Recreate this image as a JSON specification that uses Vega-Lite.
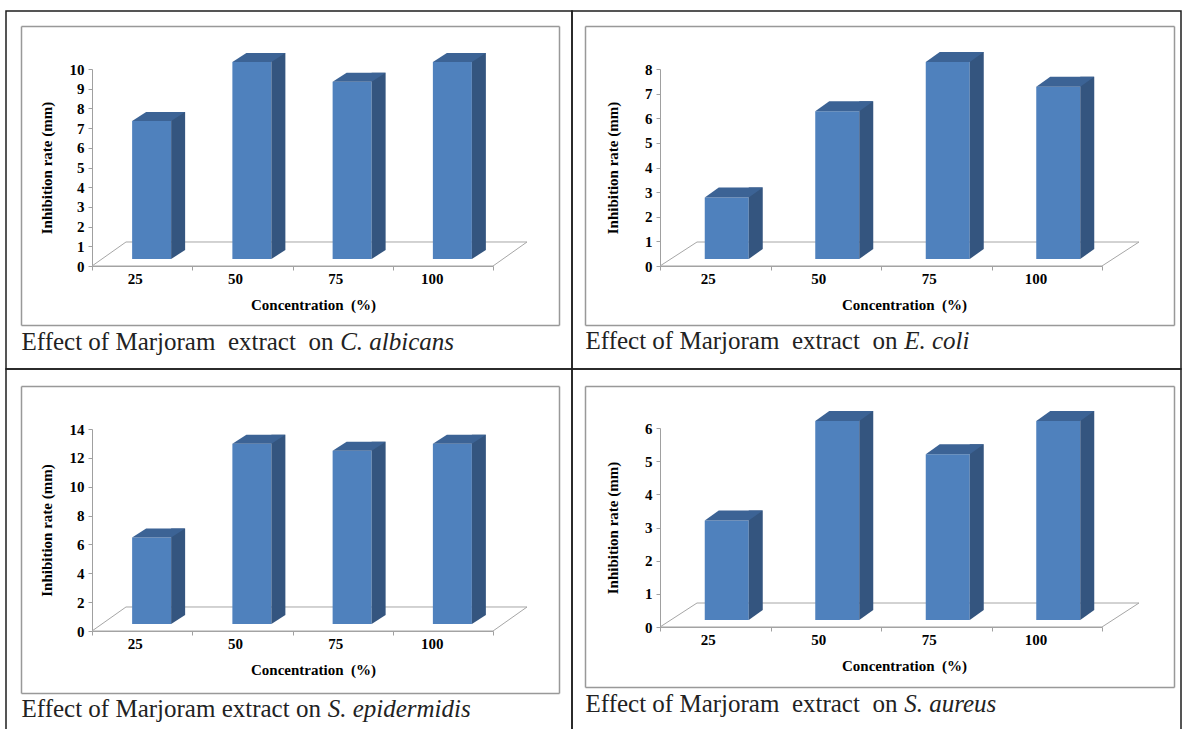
{
  "$schema": "https://vega.github.io/schema/vega-lite/v6.json",
  "padding": {"left": 5, "top": 10, "right": 0, "bottom": 0},
  "autosize": {"type": "pad"},
  "background": "white",
  "spacing": 0,
  "bounds": "flush",
  "columns": 2,
  "datasets": {
    "albicans": [{"conc": 25, "value": 7}, {"conc": 50, "value": 10}, {"conc": 75, "value": 9}, {"conc": 100, "value": 10}],
    "ecoli": [{"conc": 25, "value": 2.5}, {"conc": 50, "value": 6}, {"conc": 75, "value": 8}, {"conc": 100, "value": 7}],
    "epidermidis": [{"conc": 25, "value": 6}, {"conc": 50, "value": 12.5}, {"conc": 75, "value": 12}, {"conc": 100, "value": 12.5}],
    "aureus": [{"conc": 25, "value": 3}, {"conc": 50, "value": 6}, {"conc": 75, "value": 5}, {"conc": 100, "value": 6}]
  },
  "concat": [
        {
          "width": 566, "height": 358,
          "resolve": {"scale": {"x": "independent", "y": "independent"}, "axis": {"x": "independent", "y": "independent"}},
          "layer": [
            {
              "data": {"name": "albicans"},
              "layer": [
                {"transform": [{"filter": "datum.conc == 50"}],
                 "mark": {"type": "point", "shape": "M-1,0.0552L0.8437,0.0552L1,-0.0552L-0.8437,-0.0552Z", "size": 189225, "filled": false, "color": "#a6a6a6", "strokeWidth": 1, "opacity": 1, "xOffset": 67.125, "yOffset": -12},
                 "encoding": {"x": {"field": "conc", "type": "ordinal"},
                   "y": {"datum": 0, "type": "quantitative", "axis": {"orient": "left", "offset": -86, "values": [0, 1, 2, 3, 4, 5, 6, 7, 8, 9, 10], "format": "d", "labelOverlap": false, "title": "Inhibition rate (mm)", "labelPadding": 4, "titlePadding": 15}}}},
                {"mark": {"type": "bar", "width": 39, "xOffset": 9.5, "yOffset": -7, "y2Offset": -7, "color": "#4f81bd"},
                 "encoding": {
                   "x": {"field": "conc", "type": "ordinal", "scale": {"range": [86, 487], "paddingInner": 0, "paddingOuter": 0},
                         "axis": {"orient": "bottom", "offset": -103, "title": "Concentration\u00a0 (%)", "tickBand": "extent", "labelAngle": 0, "labelPadding": 8, "titlePadding": 11, "titleX": 307}},
                   "y": {"field": "value", "type": "quantitative", "scale": {"domain": [0, 10], "range": [255, 58], "nice": false, "zero": true},
                         "axis": {"orient": "left", "offset": -86, "values": [0, 1, 2, 3, 4, 5, 6, 7, 8, 9, 10], "format": "d", "labelOverlap": false, "title": "Inhibition rate (mm)", "labelPadding": 4, "titlePadding": 15}}
                 }},
                {"mark": {"type": "bar", "width": 14, "xOffset": 36, "yOffset": -16, "y2Offset": -16, "color": "#34557f"},
                 "encoding": {"x": {"field": "conc", "type": "ordinal"}, "y": {"field": "value", "type": "quantitative", "axis": {"orient": "left", "offset": -86, "values": [0, 1, 2, 3, 4, 5, 6, 7, 8, 9, 10], "format": "d", "labelOverlap": false, "title": "Inhibition rate (mm)", "labelPadding": 4, "titlePadding": 15}}}},
                {"mark": {"type": "point", "shape": "M-1,0.643L-1,-0.643L1,-0.643Z", "size": 196, "filled": true, "color": "#34557f", "opacity": 1, "strokeWidth": 0, "xOffset": 36, "yOffset": -11.5},
                 "encoding": {"x": {"field": "conc", "type": "ordinal"}, "y": {"datum": 0, "type": "quantitative", "axis": {"orient": "left", "offset": -86, "values": [0, 1, 2, 3, 4, 5, 6, 7, 8, 9, 10], "format": "d", "labelOverlap": false, "title": "Inhibition rate (mm)", "labelPadding": 4, "titlePadding": 15}}}},
                {"mark": {"type": "point", "shape": "M-1,0.1698L0.4717,0.1698L1,-0.1698L-0.4717,-0.1698Z", "size": 2809, "filled": true, "color": "#3c6395", "opacity": 1, "strokeWidth": 0, "xOffset": 16.5, "yOffset": -11.5},
                 "encoding": {"x": {"field": "conc", "type": "ordinal"}, "y": {"field": "value", "type": "quantitative", "axis": {"orient": "left", "offset": -86, "values": [0, 1, 2, 3, 4, 5, 6, 7, 8, 9, 10], "format": "d", "labelOverlap": false, "title": "Inhibition rate (mm)", "labelPadding": 4, "titlePadding": 15}}}}
              ]
            },
            {
              "data": {"name": "albicans"},
              "mark": {"type": "point", "opacity": 0},
              "encoding": {
                "x": {"datum": 0, "type": "quantitative", "scale": {"domain": [0, 1], "range": [15, 553]},
                      "axis": {"orient": "top", "offset": -15, "domainColor": "#999999", "domainWidth": 1.5, "ticks": false, "labels": false, "grid": false,
                               "title": "C. albicans", "titleFontStyle": "italic", "titleFontWeight": "normal", "titleFontSize": 25, "titleColor": "#222222", "titleX": 333.7, "titleY": 323, "titleAlign": "left", "titleBaseline": "alphabetic", "titleAngle": 0}},
                "y": {"datum": 0, "type": "quantitative", "scale": {"domain": [0, 1], "range": [314, 15]},
                      "axis": {"orient": "left", "offset": -15, "domainColor": "#999999", "domainWidth": 1.5, "ticks": false, "labels": false, "grid": false, "title": null}}
              }
            },
            {
              "data": {"name": "albicans"},
              "mark": {"type": "point", "opacity": 0},
              "encoding": {
                "x": {"datum": 0, "type": "quantitative", "scale": {"domain": [0, 1], "range": [15, 553]},
                      "axis": {"orient": "bottom", "offset": -44, "domainColor": "#999999", "domainWidth": 1.5, "ticks": false, "labels": false, "grid": false,
                               "title": "Effect of Marjoram\u00a0 extract\u00a0 on", "titleFontStyle": "normal", "titleFontWeight": "normal", "titleFontSize": 25, "titleColor": "#222222", "titleX": 15, "titleY": 24, "titleAlign": "left", "titleBaseline": "alphabetic", "titleAngle": 0}},
                "y": {"datum": 0, "type": "quantitative", "scale": {"domain": [0, 1], "range": [314, 15]},
                      "axis": {"orient": "right", "offset": -13, "domainColor": "#999999", "domainWidth": 1.5, "ticks": false, "labels": false, "grid": false, "title": null}}
              }
            }
          ]
        },
        {
          "width": 609, "height": 358,
          "resolve": {"scale": {"x": "independent", "y": "independent"}, "axis": {"x": "independent", "y": "independent"}},
          "layer": [
            {
              "data": {"name": "ecoli"},
              "layer": [
                {"transform": [{"filter": "datum.conc == 50"}],
                 "mark": {"type": "point", "shape": "M-1,0.0501L0.8455,0.0501L1,-0.0501L-0.8455,-0.0501Z", "size": 229441, "filled": false, "color": "#a6a6a6", "strokeWidth": 1, "opacity": 1, "xOffset": 73.75, "yOffset": -12},
                 "encoding": {"x": {"field": "conc", "type": "ordinal"},
                   "y": {"datum": 0, "type": "quantitative", "axis": {"orient": "left", "offset": -88, "values": [0, 1, 2, 3, 4, 5, 6, 7, 8], "format": "d", "labelOverlap": false, "title": "Inhibition rate (mm)", "labelPadding": 4, "titlePadding": 24}}}},
                {"mark": {"type": "bar", "width": 44, "xOffset": 11.5, "yOffset": -7, "y2Offset": -7, "color": "#4f81bd"},
                 "encoding": {
                   "x": {"field": "conc", "type": "ordinal", "scale": {"range": [88, 530], "paddingInner": 0, "paddingOuter": 0},
                         "axis": {"orient": "bottom", "offset": -103, "title": "Concentration\u00a0 (%)", "tickBand": "extent", "labelAngle": 0, "labelPadding": 8, "titlePadding": 11, "titleX": 332}},
                   "y": {"field": "value", "type": "quantitative", "scale": {"domain": [0, 8], "range": [255, 58], "nice": false, "zero": true},
                         "axis": {"orient": "left", "offset": -88, "values": [0, 1, 2, 3, 4, 5, 6, 7, 8], "format": "d", "labelOverlap": false, "title": "Inhibition rate (mm)", "labelPadding": 4, "titlePadding": 24}}
                 }},
                {"mark": {"type": "bar", "width": 14, "xOffset": 40.5, "yOffset": -17, "y2Offset": -17, "color": "#34557f"},
                 "encoding": {"x": {"field": "conc", "type": "ordinal"}, "y": {"field": "value", "type": "quantitative", "axis": {"orient": "left", "offset": -88, "values": [0, 1, 2, 3, 4, 5, 6, 7, 8], "format": "d", "labelOverlap": false, "title": "Inhibition rate (mm)", "labelPadding": 4, "titlePadding": 24}}}},
                {"mark": {"type": "point", "shape": "M-1,0.7143L-1,-0.7143L1,-0.7143Z", "size": 196, "filled": true, "color": "#34557f", "opacity": 1, "strokeWidth": 0, "xOffset": 40.5, "yOffset": -12},
                 "encoding": {"x": {"field": "conc", "type": "ordinal"}, "y": {"datum": 0, "type": "quantitative", "axis": {"orient": "left", "offset": -88, "values": [0, 1, 2, 3, 4, 5, 6, 7, 8], "format": "d", "labelOverlap": false, "title": "Inhibition rate (mm)", "labelPadding": 4, "titlePadding": 24}}}},
                {"mark": {"type": "point", "shape": "M-1,0.1724L0.5172,0.1724L1,-0.1724L-0.5172,-0.1724Z", "size": 3364, "filled": true, "color": "#3c6395", "opacity": 1, "strokeWidth": 0, "xOffset": 18.5, "yOffset": -12},
                 "encoding": {"x": {"field": "conc", "type": "ordinal"}, "y": {"field": "value", "type": "quantitative", "axis": {"orient": "left", "offset": -88, "values": [0, 1, 2, 3, 4, 5, 6, 7, 8], "format": "d", "labelOverlap": false, "title": "Inhibition rate (mm)", "labelPadding": 4, "titlePadding": 24}}}}
              ]
            },
            {
              "data": {"name": "ecoli"},
              "mark": {"type": "point", "opacity": 0},
              "encoding": {
                "x": {"datum": 0, "type": "quantitative", "scale": {"domain": [0, 1], "range": [13, 602]},
                      "axis": {"orient": "top", "offset": -15, "domainColor": "#999999", "domainWidth": 1.5, "ticks": false, "labels": false, "grid": false,
                               "title": "E. coli", "titleFontStyle": "italic", "titleFontWeight": "normal", "titleFontSize": 25, "titleColor": "#222222", "titleX": 331.7, "titleY": 322, "titleAlign": "left", "titleBaseline": "alphabetic", "titleAngle": 0}},
                "y": {"datum": 0, "type": "quantitative", "scale": {"domain": [0, 1], "range": [314, 15]},
                      "axis": {"orient": "left", "offset": -13, "domainColor": "#999999", "domainWidth": 1.5, "ticks": false, "labels": false, "grid": false, "title": null}}
              }
            },
            {
              "data": {"name": "ecoli"},
              "mark": {"type": "point", "opacity": 0},
              "encoding": {
                "x": {"datum": 0, "type": "quantitative", "scale": {"domain": [0, 1], "range": [13, 602]},
                      "axis": {"orient": "bottom", "offset": -44, "domainColor": "#999999", "domainWidth": 1.5, "ticks": false, "labels": false, "grid": false,
                               "title": "Effect of Marjoram\u00a0 extract\u00a0 on", "titleFontStyle": "normal", "titleFontWeight": "normal", "titleFontSize": 25, "titleColor": "#222222", "titleX": 13, "titleY": 23, "titleAlign": "left", "titleBaseline": "alphabetic", "titleAngle": 0}},
                "y": {"datum": 0, "type": "quantitative", "scale": {"domain": [0, 1], "range": [314, 15]},
                      "axis": {"orient": "right", "offset": -7, "domainColor": "#999999", "domainWidth": 1.5, "ticks": false, "labels": false, "grid": false, "title": null}}
              }
            }
          ]
        },
        {
          "width": 566, "height": 361,
          "resolve": {"scale": {"x": "independent", "y": "independent"}, "axis": {"x": "independent", "y": "independent"}},
          "layer": [
            {
              "data": {"name": "epidermidis"},
              "layer": [
                {"transform": [{"filter": "datum.conc == 50"}],
                 "mark": {"type": "point", "shape": "M-1,0.0552L0.8437,0.0552L1,-0.0552L-0.8437,-0.0552Z", "size": 189225, "filled": false, "color": "#a6a6a6", "strokeWidth": 1, "opacity": 1, "xOffset": 67.125, "yOffset": -12},
                 "encoding": {"x": {"field": "conc", "type": "ordinal"},
                   "y": {"datum": 0, "type": "quantitative", "axis": {"orient": "left", "offset": -86, "values": [0, 2, 4, 6, 8, 10, 12, 14], "format": "d", "labelOverlap": false, "title": "Inhibition rate (mm)", "labelPadding": 4, "titlePadding": 15}}}},
                {"mark": {"type": "bar", "width": 39, "xOffset": 9.5, "yOffset": -7, "y2Offset": -7, "color": "#4f81bd"},
                 "encoding": {
                   "x": {"field": "conc", "type": "ordinal", "scale": {"range": [86, 487], "paddingInner": 0, "paddingOuter": 0},
                         "axis": {"orient": "bottom", "offset": -99, "title": "Concentration\u00a0 (%)", "tickBand": "extent", "labelAngle": 0, "labelPadding": 8, "titlePadding": 11, "titleX": 307}},
                   "y": {"field": "value", "type": "quantitative", "scale": {"domain": [0, 14], "range": [262, 60], "nice": false, "zero": true},
                         "axis": {"orient": "left", "offset": -86, "values": [0, 2, 4, 6, 8, 10, 12, 14], "format": "d", "labelOverlap": false, "title": "Inhibition rate (mm)", "labelPadding": 4, "titlePadding": 15}}
                 }},
                {"mark": {"type": "bar", "width": 14, "xOffset": 36, "yOffset": -16, "y2Offset": -16, "color": "#34557f"},
                 "encoding": {"x": {"field": "conc", "type": "ordinal"}, "y": {"field": "value", "type": "quantitative", "axis": {"orient": "left", "offset": -86, "values": [0, 2, 4, 6, 8, 10, 12, 14], "format": "d", "labelOverlap": false, "title": "Inhibition rate (mm)", "labelPadding": 4, "titlePadding": 15}}}},
                {"mark": {"type": "point", "shape": "M-1,0.643L-1,-0.643L1,-0.643Z", "size": 196, "filled": true, "color": "#34557f", "opacity": 1, "strokeWidth": 0, "xOffset": 36, "yOffset": -11.5},
                 "encoding": {"x": {"field": "conc", "type": "ordinal"}, "y": {"datum": 0, "type": "quantitative", "axis": {"orient": "left", "offset": -86, "values": [0, 2, 4, 6, 8, 10, 12, 14], "format": "d", "labelOverlap": false, "title": "Inhibition rate (mm)", "labelPadding": 4, "titlePadding": 15}}}},
                {"mark": {"type": "point", "shape": "M-1,0.1698L0.4717,0.1698L1,-0.1698L-0.4717,-0.1698Z", "size": 2809, "filled": true, "color": "#3c6395", "opacity": 1, "strokeWidth": 0, "xOffset": 16.5, "yOffset": -11.5},
                 "encoding": {"x": {"field": "conc", "type": "ordinal"}, "y": {"field": "value", "type": "quantitative", "axis": {"orient": "left", "offset": -86, "values": [0, 2, 4, 6, 8, 10, 12, 14], "format": "d", "labelOverlap": false, "title": "Inhibition rate (mm)", "labelPadding": 4, "titlePadding": 15}}}}
              ]
            },
            {
              "data": {"name": "epidermidis"},
              "mark": {"type": "point", "opacity": 0},
              "encoding": {
                "x": {"datum": 0, "type": "quantitative", "scale": {"domain": [0, 1], "range": [15, 553]},
                      "axis": {"orient": "top", "offset": -17, "domainColor": "#999999", "domainWidth": 1.5, "ticks": false, "labels": false, "grid": false,
                               "title": "S. epidermidis", "titleFontStyle": "italic", "titleFontWeight": "normal", "titleFontSize": 25, "titleColor": "#222222", "titleX": 321.2, "titleY": 330, "titleAlign": "left", "titleBaseline": "alphabetic", "titleAngle": 0}},
                "y": {"datum": 0, "type": "quantitative", "scale": {"domain": [0, 1], "range": [324, 17]},
                      "axis": {"orient": "left", "offset": -15, "domainColor": "#999999", "domainWidth": 1.5, "ticks": false, "labels": false, "grid": false, "title": null}}
              }
            },
            {
              "data": {"name": "epidermidis"},
              "mark": {"type": "point", "opacity": 0},
              "encoding": {
                "x": {"datum": 0, "type": "quantitative", "scale": {"domain": [0, 1], "range": [15, 553]},
                      "axis": {"orient": "bottom", "offset": -37, "domainColor": "#999999", "domainWidth": 1.5, "ticks": false, "labels": false, "grid": false,
                               "title": "Effect of Marjoram extract on", "titleFontStyle": "normal", "titleFontWeight": "normal", "titleFontSize": 25, "titleColor": "#222222", "titleX": 15, "titleY": 23, "titleAlign": "left", "titleBaseline": "alphabetic", "titleAngle": 0}},
                "y": {"datum": 0, "type": "quantitative", "scale": {"domain": [0, 1], "range": [324, 17]},
                      "axis": {"orient": "right", "offset": -13, "domainColor": "#999999", "domainWidth": 1.5, "ticks": false, "labels": false, "grid": false, "title": null}}
              }
            }
          ]
        },
        {
          "width": 609, "height": 361,
          "resolve": {"scale": {"x": "independent", "y": "independent"}, "axis": {"x": "independent", "y": "independent"}},
          "layer": [
            {
              "data": {"name": "aureus"},
              "layer": [
                {"transform": [{"filter": "datum.conc == 50"}],
                 "mark": {"type": "point", "shape": "M-1,0.0501L0.8455,0.0501L1,-0.0501L-0.8455,-0.0501Z", "size": 229441, "filled": false, "color": "#a6a6a6", "strokeWidth": 1, "opacity": 1, "xOffset": 73.75, "yOffset": -12},
                 "encoding": {"x": {"field": "conc", "type": "ordinal"},
                   "y": {"datum": 0, "type": "quantitative", "axis": {"orient": "left", "offset": -88, "values": [0, 1, 2, 3, 4, 5, 6], "format": "d", "labelOverlap": false, "title": "Inhibition rate (mm)", "labelPadding": 4, "titlePadding": 24}}}},
                {"mark": {"type": "bar", "width": 44, "xOffset": 11.5, "yOffset": -7, "y2Offset": -7, "color": "#4f81bd"},
                 "encoding": {
                   "x": {"field": "conc", "type": "ordinal", "scale": {"range": [88, 530], "paddingInner": 0, "paddingOuter": 0},
                         "axis": {"orient": "bottom", "offset": -103, "title": "Concentration\u00a0 (%)", "tickBand": "extent", "labelAngle": 0, "labelPadding": 8, "titlePadding": 11, "titleX": 332}},
                   "y": {"field": "value", "type": "quantitative", "scale": {"domain": [0, 6], "range": [258, 59], "nice": false, "zero": true},
                         "axis": {"orient": "left", "offset": -88, "values": [0, 1, 2, 3, 4, 5, 6], "format": "d", "labelOverlap": false, "title": "Inhibition rate (mm)", "labelPadding": 4, "titlePadding": 24}}
                 }},
                {"mark": {"type": "bar", "width": 14, "xOffset": 40.5, "yOffset": -17, "y2Offset": -17, "color": "#34557f"},
                 "encoding": {"x": {"field": "conc", "type": "ordinal"}, "y": {"field": "value", "type": "quantitative", "axis": {"orient": "left", "offset": -88, "values": [0, 1, 2, 3, 4, 5, 6], "format": "d", "labelOverlap": false, "title": "Inhibition rate (mm)", "labelPadding": 4, "titlePadding": 24}}}},
                {"mark": {"type": "point", "shape": "M-1,0.7143L-1,-0.7143L1,-0.7143Z", "size": 196, "filled": true, "color": "#34557f", "opacity": 1, "strokeWidth": 0, "xOffset": 40.5, "yOffset": -12},
                 "encoding": {"x": {"field": "conc", "type": "ordinal"}, "y": {"datum": 0, "type": "quantitative", "axis": {"orient": "left", "offset": -88, "values": [0, 1, 2, 3, 4, 5, 6], "format": "d", "labelOverlap": false, "title": "Inhibition rate (mm)", "labelPadding": 4, "titlePadding": 24}}}},
                {"mark": {"type": "point", "shape": "M-1,0.1724L0.5172,0.1724L1,-0.1724L-0.5172,-0.1724Z", "size": 3364, "filled": true, "color": "#3c6395", "opacity": 1, "strokeWidth": 0, "xOffset": 18.5, "yOffset": -12},
                 "encoding": {"x": {"field": "conc", "type": "ordinal"}, "y": {"field": "value", "type": "quantitative", "axis": {"orient": "left", "offset": -88, "values": [0, 1, 2, 3, 4, 5, 6], "format": "d", "labelOverlap": false, "title": "Inhibition rate (mm)", "labelPadding": 4, "titlePadding": 24}}}}
              ]
            },
            {
              "data": {"name": "aureus"},
              "mark": {"type": "point", "opacity": 0},
              "encoding": {
                "x": {"datum": 0, "type": "quantitative", "scale": {"domain": [0, 1], "range": [13, 602]},
                      "axis": {"orient": "top", "offset": -17, "domainColor": "#999999", "domainWidth": 1.5, "ticks": false, "labels": false, "grid": false,
                               "title": "S. aureus", "titleFontStyle": "italic", "titleFontWeight": "normal", "titleFontSize": 25, "titleColor": "#222222", "titleX": 331.7, "titleY": 325, "titleAlign": "left", "titleBaseline": "alphabetic", "titleAngle": 0}},
                "y": {"datum": 0, "type": "quantitative", "scale": {"domain": [0, 1], "range": [318, 17]},
                      "axis": {"orient": "left", "offset": -13, "domainColor": "#999999", "domainWidth": 1.5, "ticks": false, "labels": false, "grid": false, "title": null}}
              }
            },
            {
              "data": {"name": "aureus"},
              "mark": {"type": "point", "opacity": 0},
              "encoding": {
                "x": {"datum": 0, "type": "quantitative", "scale": {"domain": [0, 1], "range": [13, 602]},
                      "axis": {"orient": "bottom", "offset": -43, "domainColor": "#999999", "domainWidth": 1.5, "ticks": false, "labels": false, "grid": false,
                               "title": "Effect of Marjoram\u00a0 extract\u00a0 on", "titleFontStyle": "normal", "titleFontWeight": "normal", "titleFontSize": 25, "titleColor": "#222222", "titleX": 13, "titleY": 24, "titleAlign": "left", "titleBaseline": "alphabetic", "titleAngle": 0}},
                "y": {"datum": 0, "type": "quantitative", "scale": {"domain": [0, 1], "range": [318, 17]},
                      "axis": {"orient": "right", "offset": -7, "domainColor": "#999999", "domainWidth": 1.5, "ticks": false, "labels": false, "grid": false, "title": null}}
              }
            }
          ]
        }
  ],
  "config": {
    "font": "Liberation Serif",
    "view": {"stroke": "#1e1e1e", "strokeWidth": 1.5},
    "axis": {
      "labelFont": "Liberation Serif", "labelFontWeight": "bold", "labelFontSize": 15, "labelColor": "#000000",
      "titleFont": "Liberation Serif", "titleFontWeight": "bold", "titleFontSize": 15, "titleColor": "#000000",
      "domainColor": "#a0a0a0", "tickColor": "#a0a0a0", "tickSize": 4, "grid": false,
      "labelFlush": false, "labelOverlap": false
    }
  }
}
